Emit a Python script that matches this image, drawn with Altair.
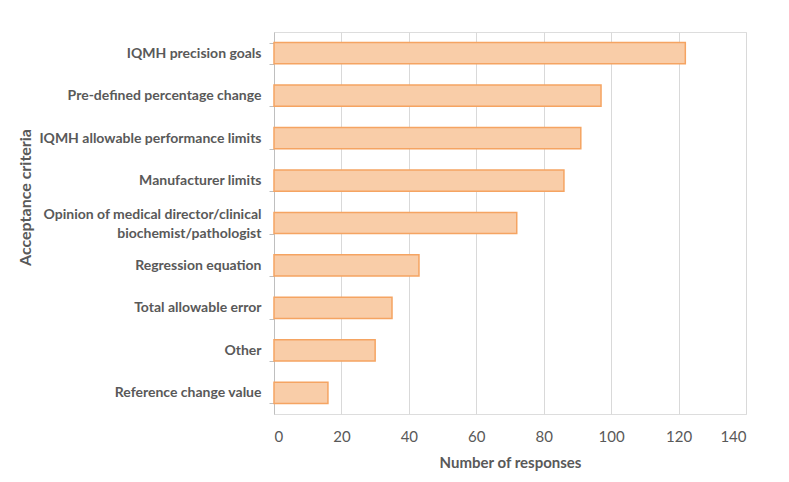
import altair as alt
import pandas as pd

categories = [
    "IQMH precision goals",
    "Pre-defined percentage change",
    "IQMH allowable performance limits",
    "Manufacturer limits",
    "Opinion of medical director/clinical|biochemist/pathologist",
    "Regression equation",
    "Total allowable error",
    "Other",
    "Reference change value",
]
responses = [122, 97, 91, 86, 72, 43, 35, 30, 16]
x_ticks = [0, 20, 40, 60, 80, 100, 120, 140]

df = pd.DataFrame({"criteria": categories, "responses": responses})

FONT = "Lato"
GRAY = "#595959"

chart = (
    alt.Chart(df)
    .mark_bar(fill="#F9CDA8", stroke="#F5A462", strokeWidth=1.5)
    .encode(
        x=alt.X(
            "responses:Q",
            scale=alt.Scale(domain=[0, 140], nice=False),
            axis=alt.Axis(
                values=x_ticks,
                title="Number of responses",
                grid=True,
                gridColor="#D9D9D9",
                gridWidth=1,
                domain=False,
                ticks=False,
                labelFont=FONT,
                labelFontSize=15,
                labelColor=GRAY,
                labelPadding=15,
                titleFont=FONT,
                titleFontSize=15,
                titleFontWeight="bold",
                titleColor=GRAY,
                titlePadding=11,
            ),
        ),
        y=alt.Y(
            "criteria:N",
            sort=categories,
            scale=alt.Scale(paddingInner=0.5, paddingOuter=0.25),
            axis=alt.Axis(
                title="Acceptance criteria",
                labelExpr="split(datum.label, '|')",
                labelFont=FONT,
                labelFontSize=14,
                labelFontWeight="bold",
                labelColor=GRAY,
                labelPadding=8,
                labelLimit=400,
                labelLineHeight=19,
                labelBaseline="middle",
                labelOffset={
                    "condition": {"test": "indexof(datum.label, '|') >= 0", "value": -9},
                    "value": 0,
                },
                domainColor="#BFBFBF",
                tickColor="#BFBFBF",
                tickBand="extent",
                tickSize=5,
                grid=False,
                titleFont=FONT,
                titleFontSize=16,
                titleFontWeight="bold",
                titleColor=GRAY,
                titleX=-249,
                titleY=165,
                titleAngle=270,
                titleAlign="center",
                titleBaseline="middle",
            ),
        ),
    )
    .properties(
        width=472,
        height=382,
        autosize=alt.AutoSizeParams(type="none"),
        padding={"left": 266, "top": 24, "right": 20, "bottom": 60},
    )
    .configure_view(stroke=None)
    .configure(background="white")
)

chart.save("out.html", embed_options={"renderer": "svg", "actions": False})
